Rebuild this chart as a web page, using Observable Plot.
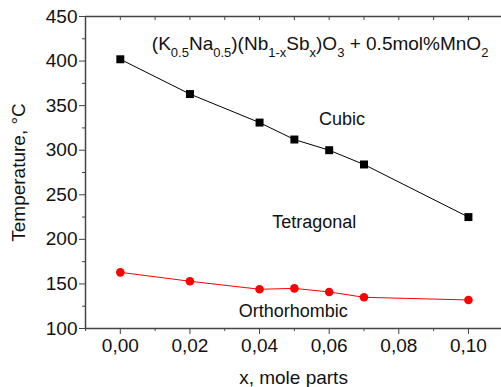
<!DOCTYPE html>
<html><head><meta charset="utf-8">
<script src="https://cdn.jsdelivr.net/npm/d3@7"></script>
<script src="https://cdn.jsdelivr.net/npm/@observablehq/plot@0.6"></script>
<style>body{margin:0;background:#fff}</style>
</head><body><div id="chart"></div>
<script>
const xValues = [0.00, 0.02, 0.04, 0.05, 0.06, 0.07, 0.10];
const cubicTetragonal = [402, 363, 331, 312, 300, 284, 225];
const tetragonalOrthorhombic = [163, 153, 144, 145, 141, 135, 132];
const yTicks = [100, 150, 200, 250, 300, 350, 400, 450];
const yMinorTicks = [125, 175, 225, 275, 325, 375, 425];
const xTicks = [0.00, 0.02, 0.04, 0.06, 0.08, 0.10];
const xMinorTicks = [-0.01, 0.01, 0.03, 0.05, 0.07, 0.09];
const xTopTicks = [0.00, 0.01, 0.02, 0.03, 0.04, 0.05, 0.06, 0.07, 0.08, 0.09, 0.10];
const phaseLabels = ["Cubic", "Tetragonal", "Orthorhombic"];
const phaseX = [0.0637, 0.0557, 0.0497];
const phaseY = [335, 219, 119];
const titleParts = [["(K",""],["0.5","sub"],["Na",""],["0.5","sub"],[")(Nb",""],["1-x","sub"],["Sb",""],["x","sub"],[")O",""],["3","sub"],[" + 0.5mol%MnO",""],["2","sub"]];

const upper = xValues.map((x, i) => ({x, y: cubicTetragonal[i]}));
const lower = xValues.map((x, i) => ({x, y: tetragonalOrthorhombic[i]}));
const labels = phaseLabels.map((t, i) => ({t, x: phaseX[i], y: phaseY[i]}));
const fmt = d => d3.format(".2f")(d).replace(".", ",");
const axisColor = "#444";

const chart = Plot.plot({
  width: 501, height: 387,
  marginLeft: 85, marginRight: 0, marginTop: 16, marginBottom: 59,
  style: {fontFamily: "'Liberation Sans', Arial, sans-serif", fontSize: "18px", color: "#111", background: "#fff"},
  x: {domain: [-0.01, 0.1095]},
  y: {domain: [100, 450]},
  marks: [
    Plot.ruleX([-0.01], {stroke: axisColor, strokeWidth: 1.5}),
    Plot.ruleY([100], {stroke: axisColor, strokeWidth: 1.5}),
    Plot.ruleY([450], {stroke: axisColor, strokeWidth: 1.5}),
    Plot.axisY({ticks: yTicks, tickSize: 6, tickPadding: 2, stroke: axisColor, label: "Temperature, °C", labelAnchor: "center", labelOffset: 74, labelArrow: "none", fontSize: 19}),
    Plot.axisY({ticks: yMinorTicks, tickSize: 3, text: null, label: null, stroke: axisColor}),
    Plot.axisX({ticks: xTicks, tickSize: 6, tickPadding: 4, tickFormat: fmt, stroke: axisColor, label: "x, mole parts", labelAnchor: "center", labelOffset: 55, labelArrow: "none", fontSize: 19}),
    Plot.axisX({ticks: xMinorTicks, tickSize: 3, text: null, label: null, stroke: axisColor}),
    Plot.axisX({anchor: "top", ticks: xTopTicks, tickSize: -3, text: null, label: null, stroke: axisColor}),
    Plot.line(upper, {x: "x", y: "y", stroke: "#000", strokeWidth: 1}),
    Plot.dot(upper, {x: "x", y: "y", symbol: "square", r: 4.5, fill: "#000"}),
    Plot.line(lower, {x: "x", y: "y", stroke: "#ff0000", strokeWidth: 1}),
    Plot.dot(lower, {x: "x", y: "y", r: 4.3, fill: "#ff0000"}),
    Plot.text(labels, {x: "x", y: "y", text: "t", fontSize: 18, fill: "#111"})
  ]
});
document.getElementById("chart").appendChild(chart);

// formula title with subscripts, positioned through the chart's scales
const sx = chart.scale("x"), sy = chart.scale("y");
const title = d3.select(chart).append("text")
  .attr("x", sx.apply(0.0092)).attr("y", sy.apply(412))
  .attr("text-anchor", "start")
  .attr("font-size", 19).attr("fill", "#111");
let sub = false;
for (const [t, kind] of titleParts) {
  const ts = title.append("tspan").text(t);
  if (kind === "sub" && !sub) { ts.attr("dy", 7).attr("font-size", 13); sub = true; }
  else if (kind === "sub") { ts.attr("font-size", 13); }
  else if (sub) { ts.attr("dy", -7); sub = false; }
}
</script></body></html>
